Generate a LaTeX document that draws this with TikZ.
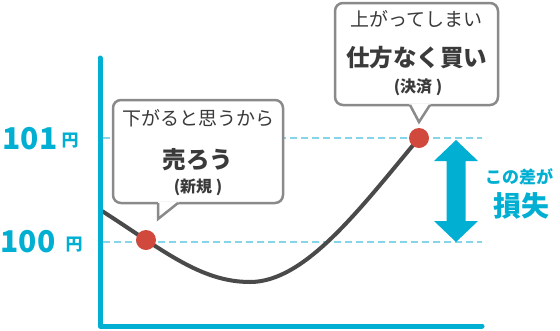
\documentclass[tikz,border=0pt]{standalone}
\usepackage{fontspec}
\newfontfamily\jp{Noto Sans CJK JP}
\definecolor{axisblue}{HTML}{00AFD2}
\definecolor{dashblue}{HTML}{86D6EA}
\definecolor{curvegray}{HTML}{4A4A4A}
\definecolor{dotred}{HTML}{D0493C}
\definecolor{boxgray}{HTML}{8A8A8A}
\definecolor{txtgray}{HTML}{3A3A3A}
\begin{document}
\begin{tikzpicture}[x=1pt,y=-1pt,
  dashline/.style={dashblue,line width=2.5pt,dash pattern=on 7pt off 4pt},
  curveline/.style={curvegray,line width=4pt,line cap=round},
  axisline/.style={axisblue,line width=5pt,line cap=round,line join=round},
  callout/.style={boxgray,line width=2.5pt,fill=white,rounded corners=8pt},
  tailline/.style={boxgray,line width=2.5pt,line join=miter},
  dot/.style={circle,fill=dotred,minimum size=20pt,inner sep=0pt},
  tsmall/.style={inner sep=0pt,text=txtgray,font=\jp\fontsize{19}{21}\selectfont},
  tbig/.style={inner sep=0pt,text=txtgray,font=\jp\bfseries\fontsize{23.5}{25}\selectfont},
  tparen/.style={inner sep=0pt,text=txtgray,font=\jp\bfseries\fontsize{16}{18}\selectfont},
  tblue/.style={inner sep=0pt,text=axisblue,font=\jp\bfseries\fontsize{#1}{#1}\selectfont},
]
\useasboundingbox (0,0) rectangle (560,330);

% dashed reference lines
\coordinate (l1a) at (103,138); \coordinate (l1b) at (482,138);
\coordinate (l0a) at (103,242); \coordinate (l0b) at (482,242);
\draw[dashline] (l1a) -- (l1b);
\draw[dashline] (l0a) -- (l0b);

% price curve
\coordinate (cs) at (102,211); \coordinate (cm) at (250,282); \coordinate (ce) at (419,138);
\draw[curveline] (cs) .. controls (162,249.4) and (200,282) .. (cm)
  .. controls (305,282) and (359,210) .. (ce);

% axes
\coordinate (ytop) at (100,58); \coordinate (orig) at (100,326); \coordinate (xend) at (482,326);
\draw[axisline] (ytop) -- (orig) -- (xend);

% callout 1
\draw[callout] (113,100) rectangle (283,203);
\fill[white] (158.2,201.5) -- (158.2,218) -- (177,203) -- (180,201.5) -- cycle;
\draw[tailline] (158,203) -- (158,219) -- (178,203);
\node[tsmall] (c1a) at (198,118) {下がると思うから};
\node[tbig]   (c1b) at (198,159.5) {売ろう};
\node[tparen] (c1c) at (198,187) {(新規 )};

% callout 2
\draw[callout] (335,3) rectangle (498,105);
\fill[white] (409,103.5) -- (419,121) -- (431,103.5) -- cycle;
\draw[tailline] (410,105) -- (419,122) -- (430,105);
\node[tsmall] (c2a) at (416.5,18.5) {上がってしまい};
\node[tbig]   (c2b) at (416.5,57.5) {仕方なく買い};
\node[tparen] (c2c) at (418,87) {(決済 )};

% dots
\node[dot] (d1) at (146,240) {};
\node[dot] (d2) at (419,138) {};

% double arrow
\fill[axisblue] (456,140) -- (478,161) -- (465.5,161) -- (465.5,221) -- (478,221) -- (456,242)
  -- (434,221) -- (446.5,221) -- (446.5,161) -- (434,161) -- cycle;

% right labels
\node[tblue=17] (dl) at (519,177) {この差が};
\node[tblue=28] (ls) at (521,206) {損失};

% left labels
\node[tblue=30] (p101) at (30,139) {101};
\node[tblue=17] (y101) at (70,140.5) {円};
\node[tblue=30] (p100) at (28,242) {100};
\node[tblue=17] (y100) at (74,244.5) {円};
\end{tikzpicture}
\end{document}
